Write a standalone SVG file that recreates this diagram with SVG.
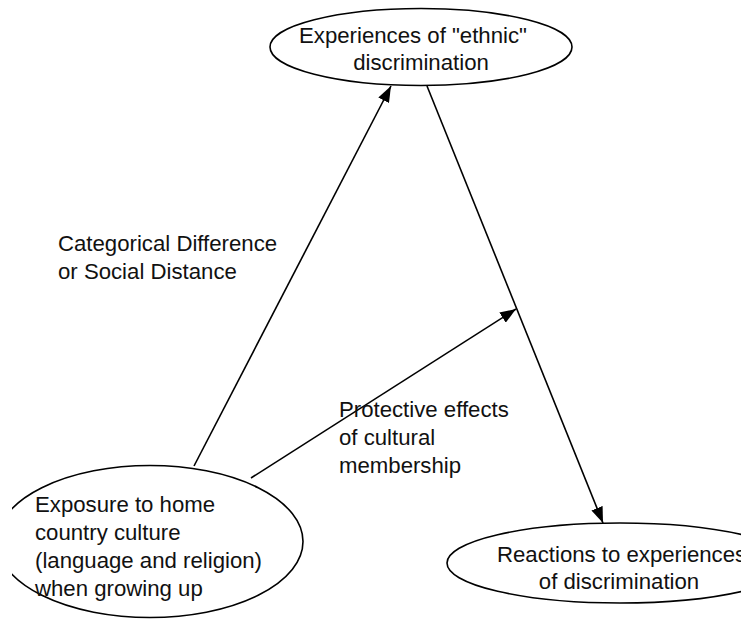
<svg xmlns="http://www.w3.org/2000/svg" width="741" height="620" viewBox="0 0 741 620">
<style>
.node{fill:#fff;stroke:#000;stroke-width:1.6}
.t{font-family:"Liberation Sans",Arial,sans-serif;font-size:22.2px;fill:#111}
.c{text-anchor:middle}
.edge{stroke:#000;stroke-width:1.6;fill:none}
</style>
<defs>
<marker id="ah" viewBox="0 0 16 12" refX="16" refY="6" markerWidth="16" markerHeight="12" markerUnits="userSpaceOnUse" orient="auto">
<path d="M0,0 L16,6 L0,12 Z" fill="#000"/>
</marker>
<clipPath id="clipL"><rect x="12" y="0" width="729" height="620"/></clipPath>
</defs>
<rect width="741" height="620" fill="#fff"/>
<g id="connectors">
<line class="edge" x1="194" y1="466" x2="391" y2="86" marker-end="url(#ah)"/>
<line class="edge" x1="427" y1="86" x2="603" y2="523" marker-end="url(#ah)"/>
<line class="edge" x1="251" y1="478" x2="516" y2="309" marker-end="url(#ah)"/>
</g>
<g id="n_experiences">
<ellipse class="node" cx="421" cy="47" rx="151" ry="38.5"/>
<text class="t c" x="413" y="43">Experiences of "ethnic"</text>
<text class="t c" x="421" y="70">discrimination</text>
</g>
<g id="n_exposure">
<ellipse class="node" cx="150" cy="541.5" rx="153" ry="76" clip-path="url(#clipL)"/>
<text class="t" x="35" y="512">Exposure to home</text>
<text class="t" x="35" y="540">country culture</text>
<text class="t" x="35" y="568">(language and religion)</text>
<text class="t" x="35" y="596">when growing up</text>
</g>
<g id="n_reactions">
<ellipse class="node" cx="620" cy="563" rx="173" ry="40"/>
<text class="t" x="497" y="562">Reactions to experiences</text>
<text class="t c" x="619" y="589">of discrimination</text>
</g>
<g id="labels">
<text class="t" x="58" y="251">Categorical Difference</text>
<text class="t" x="58" y="279">or Social Distance</text>
<text class="t" x="339" y="417">Protective effects</text>
<text class="t" x="339" y="445">of cultural</text>
<text class="t" x="339" y="473">membership</text>
</g>
</svg>
